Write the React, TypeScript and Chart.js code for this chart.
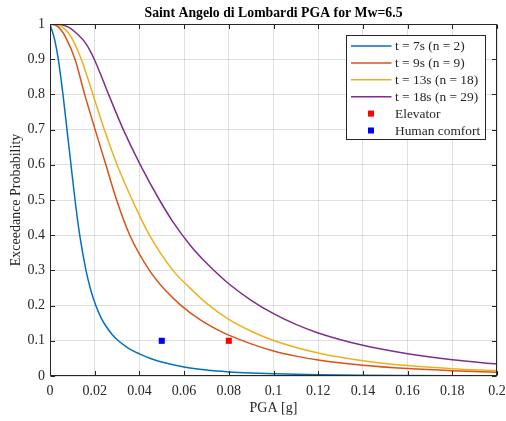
import React, { useEffect, useRef } from "react";
import { Chart, registerables } from "chart.js";

Chart.register(...registerables);

const titleText = "Saint Angelo di Lombardi PGA for Mw=6.5";
const xAxisLabel = "PGA [g]";
const yAxisLabel = "Exceedance Probability";

const xTicks = [0, 0.02, 0.04, 0.06, 0.08, 0.1, 0.12, 0.14, 0.16, 0.18, 0.2];
const xTickLabels = ["0", "0.02", "0.04", "0.06", "0.08", "0.1", "0.12", "0.14", "0.16", "0.18", "0.2"];
const yTicks = [0, 0.1, 0.2, 0.3, 0.4, 0.5, 0.6, 0.7, 0.8, 0.9, 1];
const yTickLabels = ["0", "0.1", "0.2", "0.3", "0.4", "0.5", "0.6", "0.7", "0.8", "0.9", "1"];

const seriesLabels = ["t = 7s (n = 2)", "t = 9s (n = 9)", "t = 13s (n = 18)", "t = 18s (n = 29)"];
const seriesColors = ["#0072BD", "#D95319", "#EDB120", "#7E2F8E"];

const t7Pga = [0, 0.0021, 0.0037, 0.0058, 0.0076, 0.0094, 0.0112, 0.0133, 0.0161, 0.0183, 0.0205, 0.0228, 0.025, 0.0278, 0.0306, 0.035, 0.04, 0.045, 0.05, 0.06, 0.07, 0.08, 0.09, 0.1, 0.12, 0.14, 0.16, 0.18, 0.2];
const t7Prob = [1, 0.955, 0.9, 0.8, 0.7, 0.6, 0.5, 0.4, 0.3, 0.243, 0.2, 0.166, 0.142, 0.118, 0.1, 0.0794, 0.063, 0.0498, 0.0395, 0.0253, 0.0169, 0.0117, 0.0084, 0.0062, 0.0036, 0.0022, 0.0015, 0.001, 0.00074];

const t9Pga = [0, 0.003, 0.005, 0.0072, 0.0112, 0.0155, 0.0202, 0.025, 0.0298, 0.0357, 0.0445, 0.0515, 0.0587, 0.0671, 0.075, 0.08, 0.09, 0.1, 0.11, 0.12, 0.14, 0.16, 0.18, 0.2];
const t9Prob = [1, 0.995, 0.983, 0.96, 0.9, 0.8, 0.7, 0.6, 0.5, 0.4, 0.3, 0.244, 0.2, 0.16, 0.131, 0.116, 0.0912, 0.071, 0.0565, 0.0454, 0.0304, 0.021, 0.0149, 0.0109];

const t13Pga = [0, 0.004, 0.0084, 0.0102, 0.014, 0.0192, 0.0243, 0.03, 0.0368, 0.0445, 0.055, 0.0628, 0.0705, 0.08, 0.09, 0.1, 0.12, 0.14, 0.16, 0.18, 0.2];
const t13Prob = [1, 0.997, 0.973, 0.955, 0.9, 0.8, 0.7, 0.6, 0.5, 0.4, 0.3, 0.249, 0.204, 0.1606, 0.127, 0.101, 0.0653, 0.0434, 0.0296, 0.0208, 0.015];

const t18Pga = [0, 0.004, 0.008, 0.0125, 0.016, 0.0198, 0.0262, 0.0328, 0.0404, 0.049, 0.055, 0.0628, 0.07, 0.08, 0.09, 0.1, 0.11, 0.12, 0.14, 0.16, 0.18, 0.2];
const t18Prob = [1, 0.999, 0.992, 0.97, 0.945, 0.9, 0.8, 0.7, 0.6, 0.5, 0.438, 0.371, 0.321, 0.262, 0.215, 0.177, 0.1466, 0.1224, 0.0872, 0.0633, 0.0461, 0.034];

const elevatorLabel = "Elevator";
const elevatorPga = [0.08];
const elevatorProb = [0.1];
const humanLabel = "Human comfort";
const humanPga = [0.05];
const humanProb = [0.1];

const SERIF = "'Liberation Serif', 'Times New Roman', serif";
const AXIS_COLOR = "#262626";

function toPoints(xs: number[], ys: number[]) {
  return xs.map((x, i) => ({ x, y: ys[i] }));
}

const framePlugin = {
  id: "frame",
  afterDatasetsDraw(chart: any) {
    const { ctx, chartArea: a, scales } = chart;
    ctx.save();
    ctx.strokeStyle = AXIS_COLOR;
    ctx.lineWidth = 1;
    const L = Math.round(a.left) + 0.5;
    const R = Math.round(a.right) - 0.5;
    const T = Math.round(a.top) + 0.5;
    const B = Math.round(a.bottom) - 0.5;
    ctx.beginPath();
    ctx.rect(L, T, R - L, B - T);
    const tl = 4.5;
    xTicks.forEach((v) => {
      const px = Math.round(scales.x.getPixelForValue(v)) + 0.5;
      ctx.moveTo(px, B);
      ctx.lineTo(px, B - tl);
      ctx.moveTo(px, T);
      ctx.lineTo(px, T + tl);
    });
    yTicks.forEach((v) => {
      const py = Math.round(scales.y.getPixelForValue(v)) + 0.5;
      ctx.moveTo(L, py);
      ctx.lineTo(L + tl, py);
      ctx.moveTo(R, py);
      ctx.lineTo(R - tl, py);
    });
    ctx.stroke();
    ctx.restore();
  },
  afterDraw(chart: any) {
    const { ctx, chartArea: a } = chart;
    ctx.save();
    // title
    ctx.fillStyle = "#000";
    ctx.font = `bold 13.75px ${SERIF}`;
    ctx.textAlign = "center";
    ctx.textBaseline = "middle";
    ctx.fillText(titleText, (a.left + a.right) / 2, 13);

    // legend
    const w = 139;
    const h = 104;
    const lx = Math.round(a.right - 12 - w) + 0.5;
    const ly = Math.round(a.top + 11) + 0.5;
    ctx.fillStyle = "#ffffff";
    ctx.fillRect(lx, ly, w, h);
    ctx.strokeStyle = AXIS_COLOR;
    ctx.lineWidth = 1;
    ctx.strokeRect(lx, ly, w, h);
    ctx.font = `13.4px ${SERIF}`;
    ctx.textAlign = "left";
    ctx.textBaseline = "middle";
    chart.data.datasets.forEach((ds: any, i: number) => {
      const cy = ly + 10.5 + i * 16.9;
      if (ds.showLine) {
        ctx.strokeStyle = ds.borderColor;
        ctx.lineWidth = 1.5;
        ctx.beginPath();
        ctx.moveTo(lx + 4.5, cy);
        ctx.lineTo(lx + 45, cy);
        ctx.stroke();
      } else {
        ctx.fillStyle = ds.backgroundColor;
        ctx.fillRect(lx + 24.5 - 3, cy - 3, 6, 6);
      }
      ctx.fillStyle = AXIS_COLOR;
      ctx.fillText(ds.label, lx + 48.5, cy + 0.5);
    });
    ctx.restore();
  },
};

export default function App() {
  const canvasRef = useRef<HTMLCanvasElement | null>(null);

  useEffect(() => {
    document.body.style.margin = "0";
    const canvas = canvasRef.current;
    if (!canvas) return;

    const lineSets = [
      [t7Pga, t7Prob],
      [t9Pga, t9Prob],
      [t13Pga, t13Prob],
      [t18Pga, t18Prob],
    ].map(([xs, ys], i) => ({
      label: seriesLabels[i],
      data: toPoints(xs, ys),
      showLine: true,
      borderColor: seriesColors[i],
      backgroundColor: seriesColors[i],
      borderWidth: 1.5,
      pointRadius: 0,
      pointHoverRadius: 0,
      cubicInterpolationMode: "monotone" as const,
      fill: false,
      order: 2,
    }));

    const markerSets = [
      { label: elevatorLabel, data: toPoints(elevatorPga, elevatorProb), color: "#ff0000" },
      { label: humanLabel, data: toPoints(humanPga, humanProb), color: "#0000ff" },
    ].map((m) => ({
      label: m.label,
      data: m.data,
      showLine: false,
      pointStyle: "rect" as const,
      pointRadius: 4.3,
      pointBorderWidth: 0,
      borderColor: m.color,
      backgroundColor: m.color,
      order: 1,
    }));

    const chart = new Chart(canvas, {
      type: "scatter",
      data: { datasets: [...lineSets, ...markerSets] as any },
      options: {
        animation: false,
        responsive: false,
        devicePixelRatio: 1,
        layout: { padding: { top: 24, left: 0, right: 9, bottom: 0 } },
        plugins: {
          legend: { display: false },
          tooltip: { enabled: false },
          title: { display: false },
        },
        scales: {
          x: {
            type: "linear",
            min: 0,
            max: 0.2,
            afterBuildTicks: (s: any) => {
              s.ticks = xTicks.map((v) => ({ value: v }));
            },
            afterFit: (s: any) => {
              s.height = 45;
              s.paddingLeft = 0;
              s.paddingRight = 0;
            },
            ticks: {
              padding: 7,
              color: AXIS_COLOR,
              font: { family: SERIF, size: 14 },
              maxRotation: 0,
              autoSkip: false,
              callback: (_v: any, i: number) => xTickLabels[i],
            },
            grid: { color: "rgba(38,38,38,0.15)", drawTicks: false, lineWidth: 1 },
            border: { display: false },
            title: {
              display: true,
              text: xAxisLabel,
              color: AXIS_COLOR,
              font: { family: SERIF, size: 14 },
              padding: 4.6,
            },
          },
          y: {
            type: "linear",
            min: 0,
            max: 1,
            afterBuildTicks: (s: any) => {
              s.ticks = yTicks.map((v) => ({ value: v }));
            },
            afterFit: (s: any) => {
              s.width = 50;
              s.paddingTop = 0;
              s.paddingBottom = 0;
            },
            ticks: {
              padding: 5,
              color: AXIS_COLOR,
              font: { family: SERIF, size: 14 },
              autoSkip: false,
              callback: (_v: any, i: number) => yTickLabels[i],
            },
            grid: { color: "rgba(38,38,38,0.15)", drawTicks: false, lineWidth: 1 },
            border: { display: false },
            title: {
              display: true,
              text: yAxisLabel,
              color: AXIS_COLOR,
              font: { family: SERIF, size: 14 },
              padding: 7.6,
            },
          },
        },
      },
      plugins: [framePlugin],
    });

    return () => {
      chart.destroy();
    };
  }, []);

  return (
    <div style={{ width: 506, height: 421, background: "#fff" }}>
      <canvas ref={canvasRef} width={506} height={421} style={{ display: "block" }} />
    </div>
  );
}
